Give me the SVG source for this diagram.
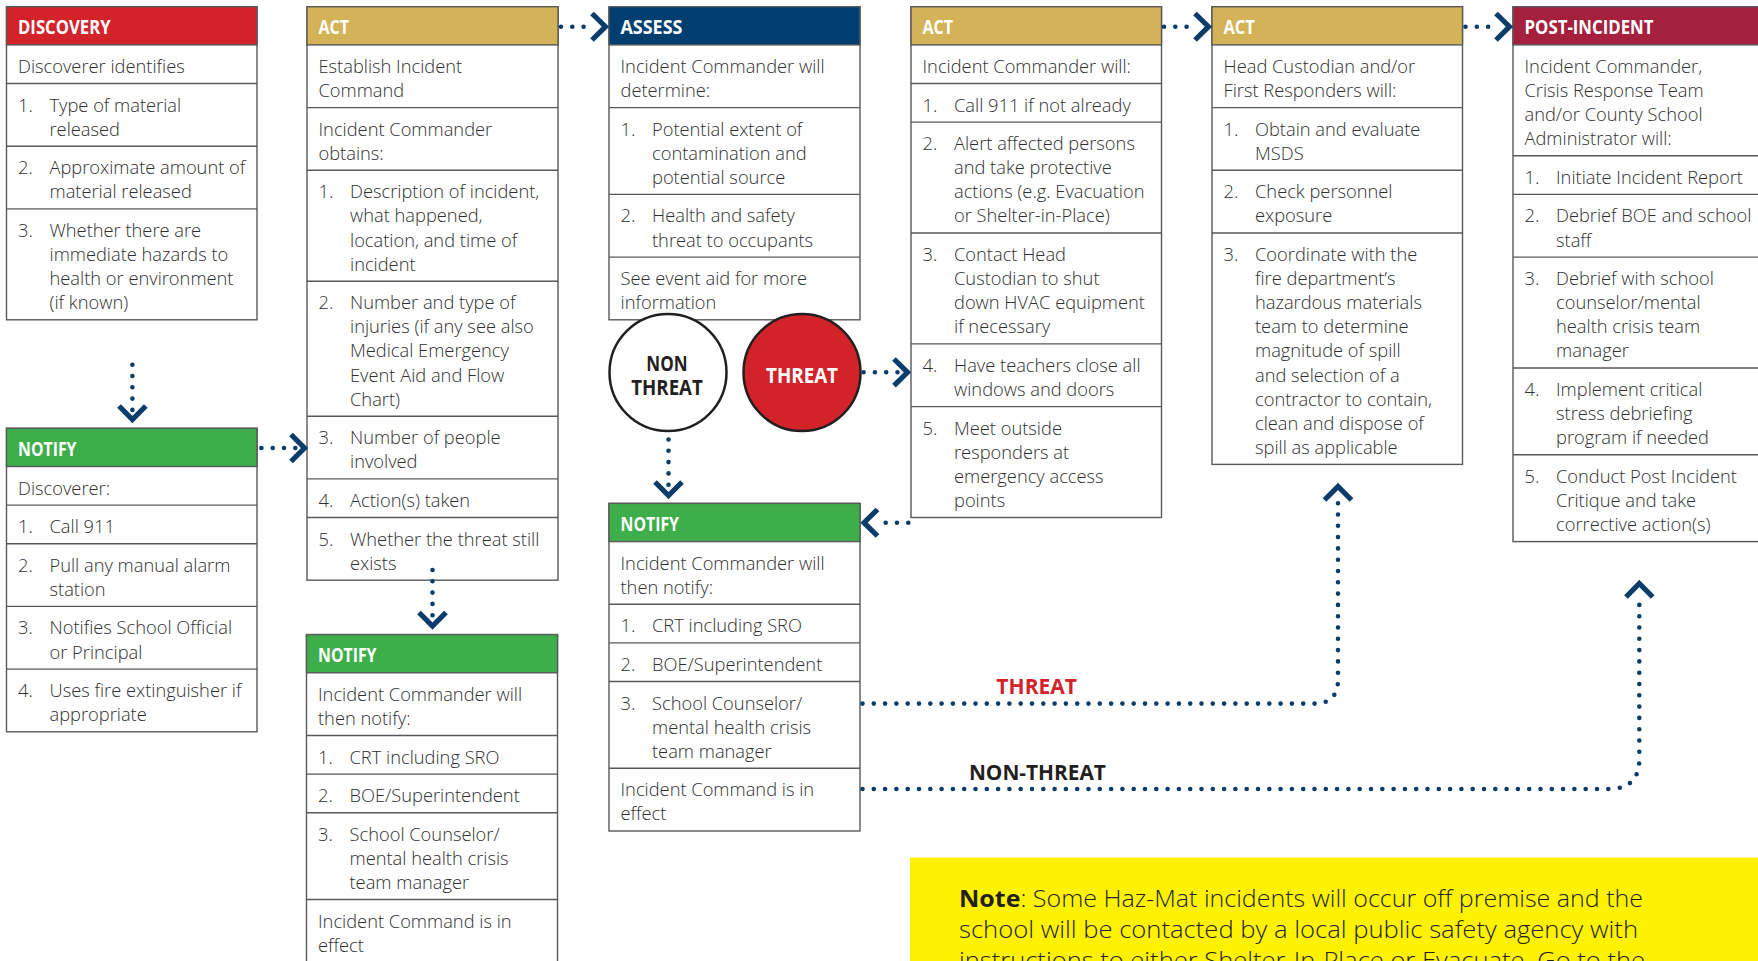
<svg xmlns="http://www.w3.org/2000/svg" width="1758" height="961" viewBox="0 0 1758 961">
<style>
.box{fill:#fff;stroke:#58595b;stroke-width:1.4}
.sep{stroke:#58595b;stroke-width:1.4}
.red{fill:#d2232a;stroke:#58595b;stroke-width:1.4}
.gold{fill:#d4b257;stroke:#58595b;stroke-width:1.4}
.navy{fill:#003e6f;stroke:#58595b;stroke-width:1.4}
.green{fill:#3eae4a;stroke:#58595b;stroke-width:1.4}
.crimson{fill:#a5203d;stroke:#58595b;stroke-width:1.4}
.t{font-family:"Open Sans","Liberation Sans",sans-serif;font-size:18.3px;font-weight:300;fill:#2f2f31}
.h{font-family:"Open Sans","Liberation Sans",sans-serif;font-size:19px;font-weight:700;fill:#fff}
.c{font-family:"Open Sans","Liberation Sans",sans-serif;font-size:21.5px;font-weight:700;text-anchor:middle}
.dot{fill:none;stroke:#0a3d6c;stroke-width:4.6;stroke-linecap:round;stroke-dasharray:0 11.3}
.chev{fill:none;stroke:#0a3d6c;stroke-width:5.2;stroke-linejoin:miter;stroke-linecap:butt}
.note{font-family:"Open Sans","Liberation Sans",sans-serif;font-size:24px;font-weight:300;fill:#231f20}
</style>

<g id="discovery">
<rect class="box" x="6.5" y="6.7" width="250.5" height="313.1"/>
<rect class="red" x="6.5" y="6.7" width="250.5" height="38.2"/>
<text class="h" x="18" y="34.3" textLength="92.6" lengthAdjust="spacingAndGlyphs">DISCOVERY</text>
<line class="sep" x1="6.5" y1="83.5" x2="257" y2="83.5"/>
<line class="sep" x1="6.5" y1="146.2" x2="257" y2="146.2"/>
<line class="sep" x1="6.5" y1="208.9" x2="257" y2="208.9"/>
<text class="t"><tspan x="18" y="72.9">Discoverer identifies</tspan></text>
<text class="t"><tspan x="18" y="111.5">1.</tspan><tspan x="49.5" y="111.5">Type of material</tspan><tspan x="49.5" y="135.6">released</tspan></text>
<text class="t"><tspan x="18" y="174.2">2.</tspan><tspan x="49.5" y="174.2">Approximate amount of</tspan><tspan x="49.5" y="198.3">material released</tspan></text>
<text class="t"><tspan x="18" y="236.9">3.</tspan><tspan x="49.5" y="236.9">Whether there are</tspan><tspan x="49.5" y="261">immediate hazards to</tspan><tspan x="49.5" y="285.1">health or environment</tspan><tspan x="49.5" y="309.2">(if known)</tspan></text>
</g>

<g id="notify-discoverer">
<rect class="box" x="6.5" y="428.3" width="250.5" height="303.5"/>
<rect class="green" x="6.5" y="428.3" width="250.5" height="38.2"/>
<text class="h" x="18" y="455.9" textLength="58.5" lengthAdjust="spacingAndGlyphs">NOTIFY</text>
<line class="sep" x1="6.5" y1="505.1" x2="257" y2="505.1"/>
<line class="sep" x1="6.5" y1="543.7" x2="257" y2="543.7"/>
<line class="sep" x1="6.5" y1="606.4" x2="257" y2="606.4"/>
<line class="sep" x1="6.5" y1="669.1" x2="257" y2="669.1"/>
<text class="t"><tspan x="18" y="494.5">Discoverer:</tspan></text>
<text class="t"><tspan x="18" y="533.1">1.</tspan><tspan x="49.5" y="533.1">Call 911</tspan></text>
<text class="t"><tspan x="18" y="571.7">2.</tspan><tspan x="49.5" y="571.7">Pull any manual alarm</tspan><tspan x="49.5" y="595.8">station</tspan></text>
<text class="t"><tspan x="18" y="634.4">3.</tspan><tspan x="49.5" y="634.4">Notifies School Official</tspan><tspan x="49.5" y="658.5">or Principal</tspan></text>
<text class="t"><tspan x="18" y="697.1">4.</tspan><tspan x="49.5" y="697.1">Uses fire extinguisher if</tspan><tspan x="49.5" y="721.2">appropriate</tspan></text>
</g>

<g id="act-establish">
<rect class="box" x="307" y="6.7" width="251" height="573.5"/>
<rect class="gold" x="307" y="6.7" width="251" height="38.2"/>
<text class="h" x="318.5" y="34.3" textLength="30.6" lengthAdjust="spacingAndGlyphs">ACT</text>
<line class="sep" x1="307" y1="107.6" x2="558" y2="107.6"/>
<line class="sep" x1="307" y1="170.3" x2="558" y2="170.3"/>
<line class="sep" x1="307" y1="281.2" x2="558" y2="281.2"/>
<line class="sep" x1="307" y1="416.2" x2="558" y2="416.2"/>
<line class="sep" x1="307" y1="478.9" x2="558" y2="478.9"/>
<line class="sep" x1="307" y1="517.5" x2="558" y2="517.5"/>
<text class="t"><tspan x="318.5" y="72.9">Establish Incident</tspan><tspan x="318.5" y="97">Command</tspan></text>
<text class="t"><tspan x="318.5" y="135.6">Incident Commander</tspan><tspan x="318.5" y="159.7">obtains:</tspan></text>
<text class="t"><tspan x="318.5" y="198.3">1.</tspan><tspan x="350" y="198.3">Description of incident,</tspan><tspan x="350" y="222.4">what happened,</tspan><tspan x="350" y="246.5">location, and time of</tspan><tspan x="350" y="270.6">incident</tspan></text>
<text class="t"><tspan x="318.5" y="309.2">2.</tspan><tspan x="350" y="309.2">Number and type of</tspan><tspan x="350" y="333.3">injuries (if any see also</tspan><tspan x="350" y="357.4">Medical Emergency</tspan><tspan x="350" y="381.5">Event Aid and Flow</tspan><tspan x="350" y="405.6">Chart)</tspan></text>
<text class="t"><tspan x="318.5" y="444.2">3.</tspan><tspan x="350" y="444.2">Number of people</tspan><tspan x="350" y="468.3">involved</tspan></text>
<text class="t"><tspan x="318.5" y="506.9">4.</tspan><tspan x="350" y="506.9">Action(s) taken</tspan></text>
<text class="t"><tspan x="318.5" y="545.5">5.</tspan><tspan x="350" y="545.5">Whether the threat still</tspan><tspan x="350" y="569.6">exists</tspan></text>
</g>

<g id="notify-commander-1">
<rect class="box" x="306.5" y="634.6" width="251" height="327.6"/>
<rect class="green" x="306.5" y="634.6" width="251" height="38.2"/>
<text class="h" x="318" y="662.2" textLength="58.5" lengthAdjust="spacingAndGlyphs">NOTIFY</text>
<line class="sep" x1="306.5" y1="735.5" x2="557.5" y2="735.5"/>
<line class="sep" x1="306.5" y1="774.1" x2="557.5" y2="774.1"/>
<line class="sep" x1="306.5" y1="812.7" x2="557.5" y2="812.7"/>
<line class="sep" x1="306.5" y1="899.5" x2="557.5" y2="899.5"/>
<text class="t"><tspan x="318" y="700.8">Incident Commander will</tspan><tspan x="318" y="724.9">then notify:</tspan></text>
<text class="t"><tspan x="318" y="763.5">1.</tspan><tspan x="349.5" y="763.5">CRT including SRO</tspan></text>
<text class="t"><tspan x="318" y="802.1">2.</tspan><tspan x="349.5" y="802.1">BOE/Superintendent</tspan></text>
<text class="t"><tspan x="318" y="840.7">3.</tspan><tspan x="349.5" y="840.7">School Counselor/</tspan><tspan x="349.5" y="864.8">mental health crisis</tspan><tspan x="349.5" y="888.9">team manager</tspan></text>
<text class="t"><tspan x="318" y="927.5">Incident Command is in</tspan><tspan x="318" y="951.6">effect</tspan></text>
</g>

<g id="assess">
<rect class="box" x="609" y="6.7" width="251" height="313.1"/>
<rect class="navy" x="609" y="6.7" width="251" height="38.2"/>
<text class="h" x="620.5" y="34.3" textLength="61.9" lengthAdjust="spacingAndGlyphs">ASSESS</text>
<line class="sep" x1="609" y1="107.6" x2="860" y2="107.6"/>
<line class="sep" x1="609" y1="194.4" x2="860" y2="194.4"/>
<line class="sep" x1="609" y1="257.1" x2="860" y2="257.1"/>
<text class="t"><tspan x="620.5" y="72.9">Incident Commander will</tspan><tspan x="620.5" y="97">determine:</tspan></text>
<text class="t"><tspan x="620.5" y="135.6">1.</tspan><tspan x="652" y="135.6">Potential extent of</tspan><tspan x="652" y="159.7">contamination and</tspan><tspan x="652" y="183.8">potential source</tspan></text>
<text class="t"><tspan x="620.5" y="222.4">2.</tspan><tspan x="652" y="222.4">Health and safety</tspan><tspan x="652" y="246.5">threat to occupants</tspan></text>
<text class="t"><tspan x="620.5" y="285.1">See event aid for more</tspan><tspan x="620.5" y="309.2">information</tspan></text>
</g>

<g id="non-threat">
<circle cx="668" cy="372.4" r="58.5" fill="#fff" stroke="#231f20" stroke-width="2.5"/>
<text class="c" x="667" y="370.6" fill="#231f20" textLength="41.3" lengthAdjust="spacingAndGlyphs">NON</text>
<text class="c" x="667" y="395.4" fill="#231f20" textLength="71.6" lengthAdjust="spacingAndGlyphs">THREAT</text>
</g>

<g id="threat">
<circle cx="802" cy="372.6" r="58.5" fill="#d2232a" stroke="#231f20" stroke-width="2.5"/>
<text class="c" x="802" y="382.6" fill="#fff" textLength="72" lengthAdjust="spacingAndGlyphs">THREAT</text>
</g>

<g id="notify-commander-2">
<rect class="box" x="609" y="503.4" width="251" height="327.6"/>
<rect class="green" x="609" y="503.4" width="251" height="38.2"/>
<text class="h" x="620.5" y="531" textLength="58.5" lengthAdjust="spacingAndGlyphs">NOTIFY</text>
<line class="sep" x1="609" y1="604.3" x2="860" y2="604.3"/>
<line class="sep" x1="609" y1="642.9" x2="860" y2="642.9"/>
<line class="sep" x1="609" y1="681.5" x2="860" y2="681.5"/>
<line class="sep" x1="609" y1="768.3" x2="860" y2="768.3"/>
<text class="t"><tspan x="620.5" y="569.6">Incident Commander will</tspan><tspan x="620.5" y="593.7">then notify:</tspan></text>
<text class="t"><tspan x="620.5" y="632.3">1.</tspan><tspan x="652" y="632.3">CRT including SRO</tspan></text>
<text class="t"><tspan x="620.5" y="670.9">2.</tspan><tspan x="652" y="670.9">BOE/Superintendent</tspan></text>
<text class="t"><tspan x="620.5" y="709.5">3.</tspan><tspan x="652" y="709.5">School Counselor/</tspan><tspan x="652" y="733.6">mental health crisis</tspan><tspan x="652" y="757.7">team manager</tspan></text>
<text class="t"><tspan x="620.5" y="796.3">Incident Command is in</tspan><tspan x="620.5" y="820.4">effect</tspan></text>
</g>

<g id="act-commander">
<rect class="box" x="911" y="6.7" width="250.5" height="510.8"/>
<rect class="gold" x="911" y="6.7" width="250.5" height="38.2"/>
<text class="h" x="922.5" y="34.3" textLength="30.6" lengthAdjust="spacingAndGlyphs">ACT</text>
<line class="sep" x1="911" y1="83.5" x2="1161.5" y2="83.5"/>
<line class="sep" x1="911" y1="122.1" x2="1161.5" y2="122.1"/>
<line class="sep" x1="911" y1="233" x2="1161.5" y2="233"/>
<line class="sep" x1="911" y1="343.9" x2="1161.5" y2="343.9"/>
<line class="sep" x1="911" y1="406.6" x2="1161.5" y2="406.6"/>
<text class="t"><tspan x="922.5" y="72.9">Incident Commander will:</tspan></text>
<text class="t"><tspan x="922.5" y="111.5">1.</tspan><tspan x="954" y="111.5">Call 911 if not already</tspan></text>
<text class="t"><tspan x="922.5" y="150.1">2.</tspan><tspan x="954" y="150.1">Alert affected persons</tspan><tspan x="954" y="174.2">and take protective</tspan><tspan x="954" y="198.3">actions (e.g. Evacuation</tspan><tspan x="954" y="222.4">or Shelter-in-Place)</tspan></text>
<text class="t"><tspan x="922.5" y="261">3.</tspan><tspan x="954" y="261">Contact Head</tspan><tspan x="954" y="285.1">Custodian to shut</tspan><tspan x="954" y="309.2">down HVAC equipment</tspan><tspan x="954" y="333.3">if necessary</tspan></text>
<text class="t"><tspan x="922.5" y="371.9">4.</tspan><tspan x="954" y="371.9">Have teachers close all</tspan><tspan x="954" y="396">windows and doors</tspan></text>
<text class="t"><tspan x="922.5" y="434.6">5.</tspan><tspan x="954" y="434.6">Meet outside</tspan><tspan x="954" y="458.7">responders at</tspan><tspan x="954" y="482.8">emergency access</tspan><tspan x="954" y="506.9">points</tspan></text>
</g>

<g id="act-custodian">
<rect class="box" x="1212" y="6.7" width="250.5" height="457.7"/>
<rect class="gold" x="1212" y="6.7" width="250.5" height="38.2"/>
<text class="h" x="1223.5" y="34.3" textLength="31.3" lengthAdjust="spacingAndGlyphs">ACT</text>
<line class="sep" x1="1212" y1="107.6" x2="1462.5" y2="107.6"/>
<line class="sep" x1="1212" y1="170.3" x2="1462.5" y2="170.3"/>
<line class="sep" x1="1212" y1="233" x2="1462.5" y2="233"/>
<text class="t"><tspan x="1223.5" y="72.9">Head Custodian and/or</tspan><tspan x="1223.5" y="97">First Responders will:</tspan></text>
<text class="t"><tspan x="1223.5" y="135.6">1.</tspan><tspan x="1255" y="135.6">Obtain and evaluate</tspan><tspan x="1255" y="159.7">MSDS</tspan></text>
<text class="t"><tspan x="1223.5" y="198.3">2.</tspan><tspan x="1255" y="198.3">Check personnel</tspan><tspan x="1255" y="222.4">exposure</tspan></text>
<text class="t"><tspan x="1223.5" y="261">3.</tspan><tspan x="1255" y="261">Coordinate with the</tspan><tspan x="1255" y="285.1">fire department’s</tspan><tspan x="1255" y="309.2">hazardous materials</tspan><tspan x="1255" y="333.3">team to determine</tspan><tspan x="1255" y="357.4">magnitude of spill</tspan><tspan x="1255" y="381.5">and selection of a</tspan><tspan x="1255" y="405.6">contractor to contain,</tspan><tspan x="1255" y="429.7">clean and dispose of</tspan><tspan x="1255" y="453.8">spill as applicable</tspan></text>
</g>

<g id="post-incident">
<rect class="box" x="1513" y="6.7" width="262" height="534.9"/>
<rect class="crimson" x="1513" y="6.7" width="262" height="38.2"/>
<text class="h" x="1524.5" y="34.3" textLength="129" lengthAdjust="spacingAndGlyphs">POST-INCIDENT</text>
<line class="sep" x1="1513" y1="155.8" x2="1775" y2="155.8"/>
<line class="sep" x1="1513" y1="194.4" x2="1775" y2="194.4"/>
<line class="sep" x1="1513" y1="257.1" x2="1775" y2="257.1"/>
<line class="sep" x1="1513" y1="368" x2="1775" y2="368"/>
<line class="sep" x1="1513" y1="454.8" x2="1775" y2="454.8"/>
<text class="t"><tspan x="1524.5" y="72.9">Incident Commander,</tspan><tspan x="1524.5" y="97">Crisis Response Team</tspan><tspan x="1524.5" y="121.1">and/or County School</tspan><tspan x="1524.5" y="145.2">Administrator will:</tspan></text>
<text class="t"><tspan x="1524.5" y="183.8">1.</tspan><tspan x="1556" y="183.8">Initiate Incident Report</tspan></text>
<text class="t"><tspan x="1524.5" y="222.4">2.</tspan><tspan x="1556" y="222.4">Debrief BOE and school</tspan><tspan x="1556" y="246.5">staff</tspan></text>
<text class="t"><tspan x="1524.5" y="285.1">3.</tspan><tspan x="1556" y="285.1">Debrief with school</tspan><tspan x="1556" y="309.2">counselor/mental</tspan><tspan x="1556" y="333.3">health crisis team</tspan><tspan x="1556" y="357.4">manager</tspan></text>
<text class="t"><tspan x="1524.5" y="396">4.</tspan><tspan x="1556" y="396">Implement critical</tspan><tspan x="1556" y="420.1">stress debriefing</tspan><tspan x="1556" y="444.2">program if needed</tspan></text>
<text class="t"><tspan x="1524.5" y="482.8">5.</tspan><tspan x="1556" y="482.8">Conduct Post Incident</tspan><tspan x="1556" y="506.9">Critique and take</tspan><tspan x="1556" y="531">corrective action(s)</tspan></text>
</g>

<g id="note">
<rect x="910" y="857.7" width="860" height="110" fill="#fff200"/>
<text class="note" x="959" y="906.7" textLength="684" lengthAdjust="spacingAndGlyphs"><tspan font-weight="700">Note</tspan>: Some Haz-Mat incidents will occur off premise and the</text>
<text class="note" x="959" y="937.7" textLength="679" lengthAdjust="spacingAndGlyphs">school will be contacted by a local public safety agency with</text>
<text class="note" x="959" y="968.7" textLength="686" lengthAdjust="spacingAndGlyphs">instructions to either Shelter-In-Place or Evacuate. Go to the</text>
</g>

<g id="connectors">
<path class="dot" d="M561 26.7 H590"/>
<path class="chev" d="M592 13.5 L605.5 26.7 L592 40"/>
<path class="dot" d="M1164 26.7 H1192"/>
<path class="chev" d="M1195 13.5 L1208.5 26.7 L1195 40"/>
<path class="dot" d="M1465.5 26.7 H1493"/>
<path class="chev" d="M1496 13.5 L1509.5 26.7 L1496 40"/>
<path class="dot" d="M132.4 364.7 V412"/>
<path class="chev" d="M119 406 L132.4 419.5 L145.8 406"/>
<path class="dot" d="M261.4 448 H297"/>
<path class="chev" d="M291 434.5 L304.5 448 L291 461.5"/>
<path class="dot" d="M432.5 570 V618"/>
<path class="chev" d="M419 612.5 L432.5 626 L446 612.5"/>
<path class="dot" d="M863.6 372.3 H900"/>
<path class="chev" d="M894 359 L907.5 372.3 L894 385.6"/>
<path class="dot" d="M668.5 439.5 V487"/>
<path class="chev" d="M655 482 L668.5 495.5 L682 482"/>
<path class="dot" d="M908.3 522.7 H880"/>
<path class="chev" d="M877.5 509.5 L864 522.7 L877.5 536"/>
<path class="dot" d="M862.5 703.6 H1314 Q1338 703.6 1338 680 V503"/>
<path class="chev" d="M1324.5 500 L1338 486.5 L1351.5 500"/>
<path class="dot" d="M862.5 789 H1609 Q1639.3 789 1639.3 759 V600"/>
<path class="chev" d="M1626 597 L1639.3 583.5 L1652.7 597"/>
<text class="c" x="1036.7" y="694.3" fill="#d2232a" font-size="23" textLength="80.7" lengthAdjust="spacingAndGlyphs">THREAT</text>
<text class="c" x="1037.4" y="779.7" fill="#231f20" font-size="23" textLength="137" lengthAdjust="spacingAndGlyphs">NON-THREAT</text>
</g>
</svg>
